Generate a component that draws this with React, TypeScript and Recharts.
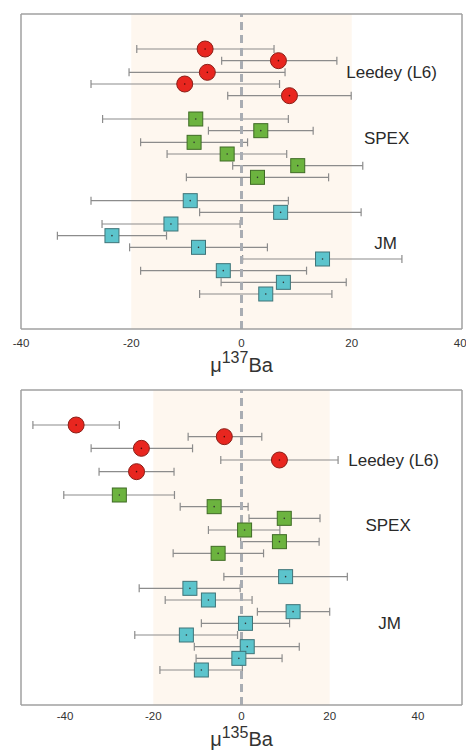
import React from 'react';
import { ScatterChart, Scatter, XAxis, YAxis, ErrorBar, ReferenceArea, ReferenceLine, ReferenceDot } from 'recharts';

// row positions (top = 0, reversed axis)
const leedeyRows = [3, 4, 5, 6, 7];
const spexRows = [9, 10, 11, 12, 13, 14];
const jmRows = [16, 17, 18, 19, 20, 21, 22, 23, 24];

// mu 137Ba
const leedey137 = [-6.6, 6.7, -6.2, -10.3, 8.7];
const leedey137Lo = [-19, -3.6, -20.4, -27.3, -2.5];
const leedey137Hi = [5.9, 17.3, 7.9, 6.9, 19.9];
const spex137 = [-8.3, 3.5, -8.6, -2.6, 10.2, 2.9];
const spex137Lo = [-25.2, -6, -18.3, -13.5, -1.6, -10];
const spex137Hi = [8.5, 13, 1.1, 8.2, 22, 15.8];
const jm137 = [-9.3, 7.1, -12.8, -23.5, -7.8, 14.7, -3.3, 7.6, 4.4];
const jm137Lo = [-27.3, -7.6, -25.3, -33.4, -20.3, 0.2, -18.3, -3.7, -7.6];
const jm137Hi = [8.5, 21.7, -0.25, -13.6, 4.7, 29.1, 11.8, 19, 16.4];

// mu 135Ba
const leedey135 = [-37.5, -3.9, -22.7, 8.6, -23.8];
const leedey135Lo = [-47.3, -12.1, -34.1, -4.7, -32.3];
const leedey135Hi = [-27.7, 4.6, -11.1, 21.9, -15.3];
const spex135 = [-27.7, -6.2, 9.7, 0.7, 8.6, -5.3];
const spex135Lo = [-40.3, -13.9, 1.7, -7.5, -0.2, -15.5];
const spex135Hi = [-15.2, 1.5, 17.8, 8.7, 17.6, 5];
const jm135 = [10, -11.7, -7.5, 11.7, 0.9, -12.5, 1.3, -0.6, -9.1];
const jm135Lo = [-4, -23.2, -17.3, 3.6, -9.1, -24.2, -10.7, -10.3, -18.5];
const jm135Hi = [24, -0.3, 2.4, 20, 10.9, -0.9, 13.1, 9.2, 0.2];

const groupNames = ['Leedey (L6)', 'SPEX', 'JM'];
// where the group names sit, in data units [x, row]
const labels137 = [[19, 5], [22.2, 10.6], [24.1, 19.6]];
const labels135 = [[24.2, 6], [28.1, 11.6], [31, 20]];

const ticks137 = [-40, -20, 0, 20, 40];
const ticks135 = [-40, -20, 0, 20, 40];

const toRows = (vals: number[], lo: number[], hi: number[], rows: number[]) =>
  vals.map((v, i) => ({ x: v, y: rows[i], err: [v - lo[i], hi[i] - v] }));

const FONT = 'Arial, "Liberation Sans", Helvetica, sans-serif';
const FRAME = '#a0a0a0';

const RedCircle = (p: any) => (
  <g>
    <circle cx={p.cx} cy={p.cy} r={8} fill="#E8261F" stroke="#8a1f18" strokeWidth={1} />
    <circle cx={p.cx} cy={p.cy} r={0.8} fill="#4a0c08" />
  </g>
);

const makeSquare = (fill: string, stroke: string) => (p: any) => (
  <g>
    <rect x={p.cx - 7} y={p.cy - 7} width={14} height={14} fill={fill} stroke={stroke} strokeWidth={1} />
    <circle cx={p.cx} cy={p.cy} r={0.8} fill="#333" />
  </g>
);
const GreenSquare = makeSquare('#6CB33F', '#3f6b25');
const CyanSquare = makeSquare('#5CC4CC', '#3f7478');

const Panel = ({ mass, domain, ticks, topTicks, innerTicks, sets, labelPos, height, titleGap, supShift, tickGap }: any) => {
  const shapes = [RedCircle, GreenSquare, CyanSquare];
  return (
    <ScatterChart width={466} height={height} margin={{ top: 14, right: 3, bottom: 0, left: 20 }}>
      <XAxis xAxisId="main" type="number" dataKey="x" domain={domain} ticks={ticks} allowDataOverflow
        height={height - 14 - 315} axisLine={{ stroke: FRAME, strokeWidth: 1.5 }} tickLine={false}
        tickSize={4} tickMargin={tickGap} tick={{ fill: '#333', fontSize: 11.5, fontFamily: FONT }}
        label={{
          content: (lp: any) => {
            const vb = lp.viewBox;
            return (
              <text x={vb.x + vb.width / 2} y={vb.y + titleGap} textAnchor="middle" fill="#333" fontFamily={FONT} fontSize={20}>
                <tspan>μ</tspan>
                <tspan dy={-supShift} fontSize={16}>{mass}</tspan>
                <tspan dy={supShift}>Ba</tspan>
              </text>
            );
          },
        }} />
      <XAxis xAxisId="top" orientation="top" type="number" domain={domain} ticks={topTicks} allowDataOverflow mirror
        axisLine={{ stroke: FRAME, strokeWidth: 1.5 }} tickLine={{ stroke: FRAME }} tickSize={4} tick={false} />
      <XAxis xAxisId="inner" type="number" domain={domain} ticks={innerTicks} allowDataOverflow mirror
        axisLine={false} tickLine={{ stroke: FRAME }} tickSize={4} tick={false} />
      <YAxis yAxisId="left" type="number" dataKey="y" domain={[0, 27]} reversed width={1}
        axisLine={{ stroke: FRAME, strokeWidth: 1.5 }} tick={false} tickLine={false} />
      <YAxis yAxisId="right" orientation="right" type="number" domain={[0, 27]} reversed width={1}
        axisLine={{ stroke: FRAME, strokeWidth: 1.5 }} tick={false} tickLine={false} />
      <ReferenceArea xAxisId="main" yAxisId="left" x1={-20} x2={20} fill="#FEF7EF" fillOpacity={1} stroke="none" />
      {sets.map((s: any, i: number) => (
        <Scatter key={i} name={groupNames[i]} xAxisId="main" yAxisId="left" data={s} shape={shapes[i]} isAnimationActive={false}>
          <ErrorBar dataKey="err" direction="x" width={4} stroke="#8c8c8c" strokeWidth={1.2} isAnimationActive={false} />
        </Scatter>
      ))}
      <ReferenceLine xAxisId="main" yAxisId="left" x={0} stroke="#A9ADB3" strokeWidth={3} strokeDasharray="8 5" />
      {labelPos.map((lp: number[], i: number) => (
        <ReferenceDot key={i} xAxisId="main" yAxisId="left" x={lp[0]} y={lp[1]} r={0} fill="none" stroke="none"
          label={{ value: groupNames[i], position: 'insideLeft', offset: 0, fill: '#2a2a2a', fontSize: 17, fontFamily: FONT }} />
      ))}
    </ScatterChart>
  );
};

export default function App() {
  const sets137 = [
    toRows(leedey137, leedey137Lo, leedey137Hi, leedeyRows),
    toRows(spex137, spex137Lo, spex137Hi, spexRows),
    toRows(jm137, jm137Lo, jm137Hi, jmRows),
  ];
  const sets135 = [
    toRows(leedey135, leedey135Lo, leedey135Hi, leedeyRows),
    toRows(spex135, spex135Lo, spex135Hi, spexRows),
    toRows(jm135, jm135Lo, jm135Hi, jmRows),
  ];
  return (
    <div style={{ position: 'absolute', left: 0, top: 0, width: 466, height: 751, background: '#fff', fontFamily: FONT }}>
      <div style={{ position: 'absolute', left: 0, top: 0 }}>
        <Panel mass="137" domain={[-40, 40]} ticks={ticks137} topTicks={[-20, 0, 20]} innerTicks={[]}
          sets={sets137} labelPos={labels137} height={380} titleGap={43} supShift={9.5} tickGap={6} />
      </div>
      <div style={{ position: 'absolute', left: 0, top: 376 }}>
        <Panel mass="135" domain={[-50, 50]} ticks={ticks135} topTicks={[-40, -20, 0, 20, 40]} innerTicks={[-40, -20, 20, 40]}
          sets={sets135} labelPos={labels135} height={375} titleGap={40.5} supShift={8} tickGap={3} />
      </div>
    </div>
  );
}
